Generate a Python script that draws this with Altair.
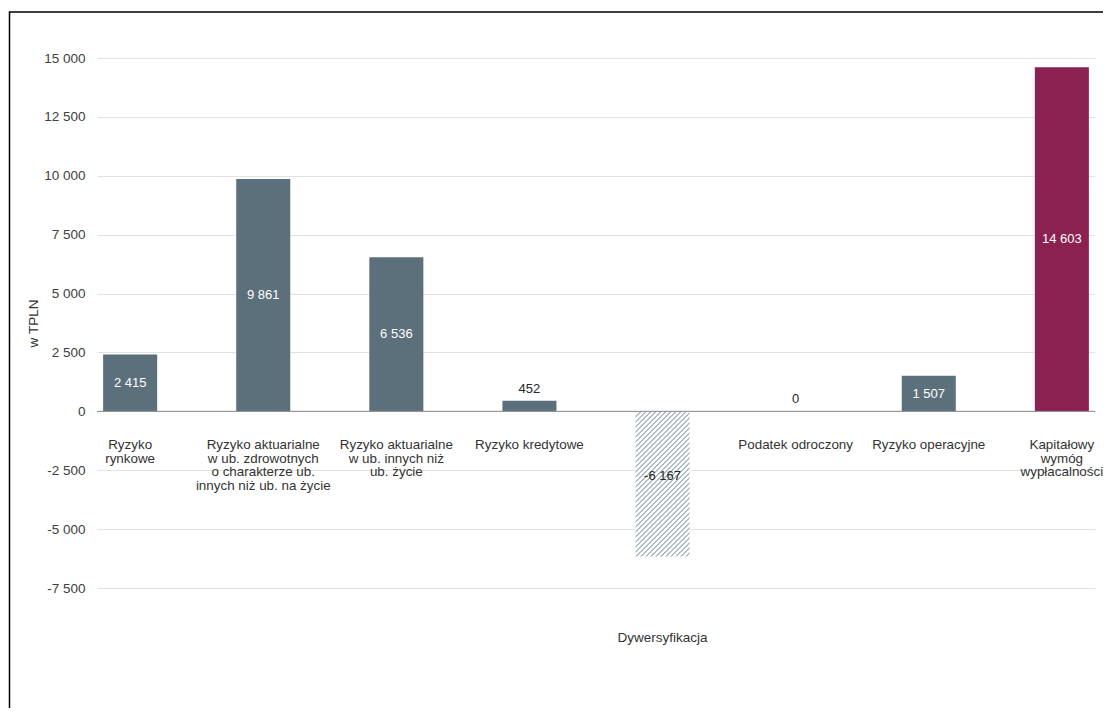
import altair as alt
import pandas as pd

# ---- data ----
categories = [
    "Ryzyko rynkowe",
    "Ryzyko aktuarialne w ub. zdrowotnych o charakterze ub. innych niż ub. na życie",
    "Ryzyko aktuarialne w ub. innych niż ub. życie",
    "Ryzyko kredytowe",
    "Dywersyfikacja",
    "Podatek odroczony",
    "Ryzyko operacyjne",
    "Kapitałowy wymóg wypłacalności",
]
label_lines = [
    "Ryzyko\nrynkowe",
    "Ryzyko aktuarialne\nw ub. zdrowotnych\no charakterze ub.\ninnych niż ub. na życie",
    "Ryzyko aktuarialne\nw ub. innych niż\nub. życie",
    "Ryzyko kredytowe",
    "Dywersyfikacja",
    "Podatek odroczony",
    "Ryzyko operacyjne",
    "Kapitałowy\nwymóg\nwypłacalności",
]
values = [2415, 9861, 6536, 452, -6167, 0, 1507, 14603]
kinds = ["risk", "risk", "risk", "risk", "div", "risk", "risk", "total"]
y_ticks = [-7500, -5000, -2500, 0, 2500, 5000, 7500, 10000, 12500, 15000]


def fmt(v):
    s = f"{abs(v):,}".replace(",", " ")
    return ("-" if v < 0 else "") + s


df = pd.DataFrame({
    "category": categories,
    "label": label_lines,
    "value": values,
    "kind": kinds,
})
df["mid"] = df["value"] / 2
df["txt"] = [fmt(v) for v in values]
df["pos"] = ["inside" if abs(v) >= 1000 else "above" for v in values]

FONT = "Liberation Sans"
GRAY = "#5b707a"
WINE = "#8b2150"
HATCH = "#aebcc3"

# diagonal hatch emulated with a striped linear gradient
W, H = 54.0, 145.0
k = (W + H) / (W * W + H * H)
n_stripes = 40
stops = []
for i in range(n_stripes):
    a = i / n_stripes
    b = (i + 0.38) / n_stripes
    c = (i + 1) / n_stripes
    stops += [
        alt.GradientStop(offset=a, color=HATCH),
        alt.GradientStop(offset=b, color=HATCH),
        alt.GradientStop(offset=b, color="#ffffff"),
        alt.GradientStop(offset=c, color="#ffffff"),
    ]
hatch = alt.LinearGradient(gradient="linear", stops=stops,
                           x1=0, y1=0, x2=k * W, y2=k * H)

x_scale = alt.Scale(domain=categories, paddingInner=0.594, paddingOuter=0.046)
y_scale = alt.Scale(domain=[-7500, 15000], nice=False, zero=False)

base = alt.Chart(df)

x_enc = alt.X(
    "category:N", scale=x_scale, sort=categories, title=None,
    axis=alt.Axis(
        orient="bottom", domain=False, ticks=False, tickSize=0, grid=False,
        labelAngle=0, labelPadding=49, labelBaseline="middle",
        labelFont=FONT, labelFontSize=13.5, labelColor="#333333",
        labelLimit=300,
        labelExpr="datum.value == 'Dywersyfikacja' ? datum.value : ''",
    ),
)

y_axis = alt.Axis(
    values=y_ticks, domain=False, ticks=False, grid=True,
    gridColor="#e2e2e2", gridWidth=1,
    labelFont=FONT, labelFontSize=13.5, labelColor="#404040", labelPadding=12,
    labelExpr="replace(replace(format(datum.value, ','), ',', ' '), '\u2212', '-')",
    title="w TPLN", titleFont=FONT, titleFontSize=13.5, titleFontWeight="normal",
    titleColor="#333333", titleAngle=270, titleX=-64, titleY=265,
    titleAlign="center", titleBaseline="middle",
)

bars = base.transform_filter("datum.value >= 0").mark_bar().encode(
    x=x_enc,
    y=alt.Y("value:Q", scale=y_scale, axis=y_axis),
    color=alt.Color("kind:N", scale=alt.Scale(domain=["risk", "total"], range=[GRAY, WINE]), legend=None),
)

neg_bars = base.transform_filter("datum.value < 0").mark_bar(fill=hatch).encode(
    x=alt.X("category:N", scale=x_scale, sort=categories),
    y=alt.Y("value:Q", scale=y_scale),
)

zero_line = alt.Chart(pd.DataFrame({"z": [0]})).mark_rule(color="#8a8a8a", strokeWidth=1).encode(
    y=alt.Y("z:Q", scale=y_scale)
)

inside_pos = base.transform_filter("datum.value > 0 && datum.pos == 'inside'").mark_text(
    font=FONT, fontSize=13, color="#ffffff", baseline="middle"
).encode(
    x=alt.X("category:N", scale=x_scale, sort=categories),
    y=alt.Y("mid:Q", scale=y_scale),
    text="txt:N",
)

inside_neg = base.transform_filter("datum.value < 0").mark_text(
    font=FONT, fontSize=13, color="#262626", baseline="middle", dy=-8
).encode(
    x=alt.X("category:N", scale=x_scale, sort=categories),
    y=alt.Y("mid:Q", scale=y_scale),
    text="txt:N",
)

above = base.transform_filter("datum.pos == 'above'").mark_text(
    font=FONT, fontSize=13, color="#262626", baseline="middle", dy=-12
).encode(
    x=alt.X("category:N", scale=x_scale, sort=categories),
    y=alt.Y("value:Q", scale=y_scale),
    text="txt:N",
)

cat_labels = base.transform_filter("datum.value >= 0").transform_calculate(
    zero="0"
).mark_text(
    font=FONT, fontSize=13.4, color="#333333", baseline="top", align="center",
    lineBreak="\n", lineHeight=13.4, dy=27
).encode(
    x=alt.X("category:N", scale=x_scale, sort=categories),
    y=alt.Y("zero:Q", scale=y_scale),
    text="label:N",
)

frame = alt.Chart(pd.DataFrame({"f": [0]})).mark_rect(
    fill="transparent", stroke="#000000", strokeWidth=1.5
).encode(
    x=alt.value(-87.5), x2=alt.value(1400),
    y=alt.value(-46), y2=alt.value(1000),
)

chart = alt.layer(
    frame, bars, neg_bars, zero_line, inside_pos, inside_neg, above, cat_labels
).properties(
    width=998, height=530,
    autosize=alt.AutoSizeParams(type="none"),
    padding={"left": 89, "top": 50, "right": 8, "bottom": 120},
    background="#ffffff",
).configure_view(stroke="transparent", strokeWidth=0)

chart.save("out.html", embed_options={"renderer": "svg", "actions": False})
